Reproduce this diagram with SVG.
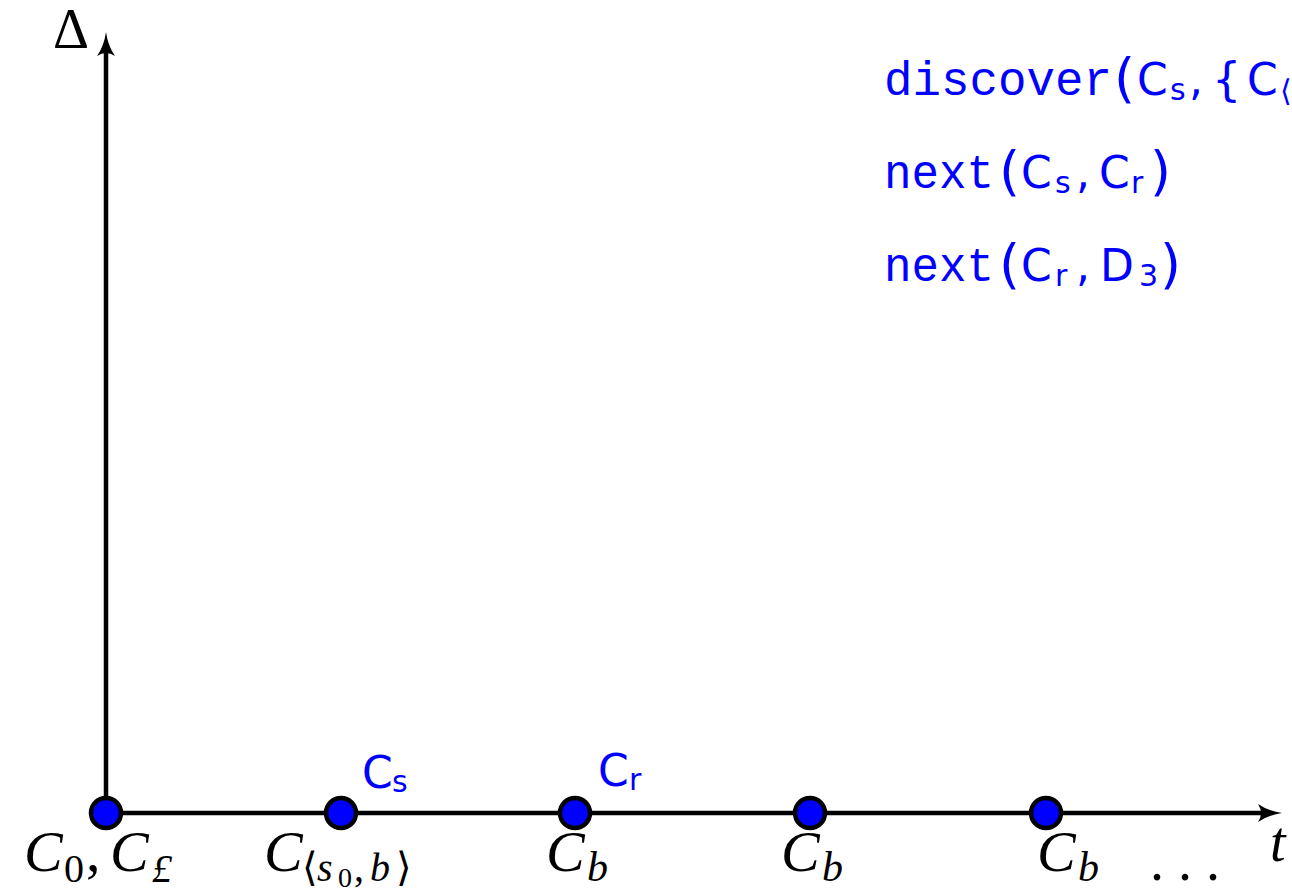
<svg xmlns="http://www.w3.org/2000/svg" width="1292" height="893" viewBox="0 0 1292 893">
<defs>
<marker id="arr" markerWidth="26" markerHeight="22" refX="12" refY="11" orient="auto" markerUnits="userSpaceOnUse">
<path d="M0,2 Q10,9 24,11 Q10,13 0,20 Q6,11 0,2 Z" fill="#000"/>
</marker>
<style>
.ax{stroke:#000;stroke-width:4.5;fill:none}
.nd{fill:#0000ff;stroke:#000;stroke-width:4.5}
.m{font-family:"Liberation Serif","DejaVu Serif",serif;font-style:italic;fill:#000}
.up{font-family:"Liberation Serif","DejaVu Serif",serif;font-style:normal;fill:#000}
.bs{font-family:"DejaVu Sans","Liberation Sans",sans-serif;fill:#0000ff}
.tt{font-family:"Liberation Mono","DejaVu Sans Mono",monospace;fill:#0000ff}
</style>
</defs>
<rect width="1292" height="893" fill="#fff"/>
<g id="connectors">
<line class="ax" x1="106" y1="813" x2="106" y2="44" marker-end="url(#arr)"/>
<line class="ax" x1="106" y1="813" x2="1270" y2="813" marker-end="url(#arr)"/>
</g>
<g id="axis-labels">
<text class="up" x="53" y="48" font-size="56">Δ</text>
<text class="m" x="1270" y="861" font-size="56">t</text>
<text class="up" x="1150" y="880" font-size="56">. . .</text>
</g>
<g id="n0">
<circle class="nd" cx="106" cy="813" r="15"/>
<text class="m" x="24" y="871" font-size="58">C<tspan class="up" font-size="40" x="64" dy="11">0</tspan><tspan class="up" font-size="58" x="86" dy="-11">,</tspan><tspan x="110">C</tspan><tspan font-size="40" x="152" dy="11">£</tspan></text>
</g>
<g id="n1">
<circle class="nd" cx="341" cy="813" r="15"/>
<text x="362" y="788" class="bs" font-size="44">C<tspan font-size="30" x="392" dy="4">s</tspan></text>
<text class="m" x="264" y="871" font-size="58">C<tspan class="up" font-size="40" x="302" dy="10">⟨</tspan><tspan font-size="40" x="317">s</tspan><tspan class="up" font-size="28" x="338" dy="6">0</tspan><tspan class="up" font-size="40" x="354" dy="-6">,</tspan><tspan font-size="40" x="370">b</tspan><tspan class="up" font-size="40" x="396">⟩</tspan></text>
</g>
<g id="n2">
<circle class="nd" cx="575" cy="813" r="15"/>
<text x="598" y="786" class="bs" font-size="44">C<tspan font-size="30" x="629" dy="4">r</tspan></text>
<text class="m" x="546" y="871" font-size="58">C<tspan font-size="42" x="587" dy="10">b</tspan></text>
</g>
<g id="n3">
<circle class="nd" cx="810" cy="813" r="15"/>
<text class="m" x="781" y="871" font-size="58">C<tspan font-size="42" x="822" dy="10">b</tspan></text>
</g>
<g id="n4">
<circle class="nd" cx="1046" cy="813" r="15"/>
<text class="m" x="1037" y="871" font-size="58">C<tspan font-size="42" x="1078" dy="10">b</tspan></text>
</g>
<g id="annotations">
<text class="tt" x="884" y="95" font-size="48"><tspan textLength="228" lengthAdjust="spacingAndGlyphs">discover</tspan><tspan class="bs" font-size="54" x="1114" dy="2">(</tspan><tspan class="bs" font-size="44" x="1137" dy="-2">C</tspan><tspan class="bs" font-size="30" x="1170" dy="5">s</tspan><tspan class="bs" font-size="44" x="1189" dy="-5">,</tspan><tspan class="bs" font-size="46" x="1212">{</tspan><tspan class="bs" font-size="44" x="1247">C</tspan><tspan class="bs" font-size="30" x="1280" dy="6">⟨</tspan></text>
<text class="tt" x="884" y="188" font-size="48"><tspan textLength="110" lengthAdjust="spacingAndGlyphs">next</tspan><tspan class="bs" font-size="54" x="999" dy="2">(</tspan><tspan class="bs" font-size="44" x="1021" dy="-2">C</tspan><tspan class="bs" font-size="30" x="1055" dy="5">s</tspan><tspan class="bs" font-size="44" x="1076" dy="-5">,</tspan><tspan class="bs" font-size="44" x="1099">C</tspan><tspan class="bs" font-size="30" x="1131" dy="5">r</tspan><tspan class="bs" font-size="54" x="1150" dy="-3">)</tspan></text>
<text class="tt" x="884" y="281" font-size="48"><tspan textLength="110" lengthAdjust="spacingAndGlyphs">next</tspan><tspan class="bs" font-size="54" x="999" dy="2">(</tspan><tspan class="bs" font-size="44" x="1021" dy="-2">C</tspan><tspan class="bs" font-size="30" x="1055" dy="5">r</tspan><tspan class="bs" font-size="44" x="1076" dy="-5">,</tspan><tspan class="bs" font-size="44" x="1100">D</tspan><tspan class="bs" font-size="30" x="1139" dy="5">3</tspan><tspan class="bs" font-size="54" x="1160" dy="-3">)</tspan></text>
</g>
</svg>
